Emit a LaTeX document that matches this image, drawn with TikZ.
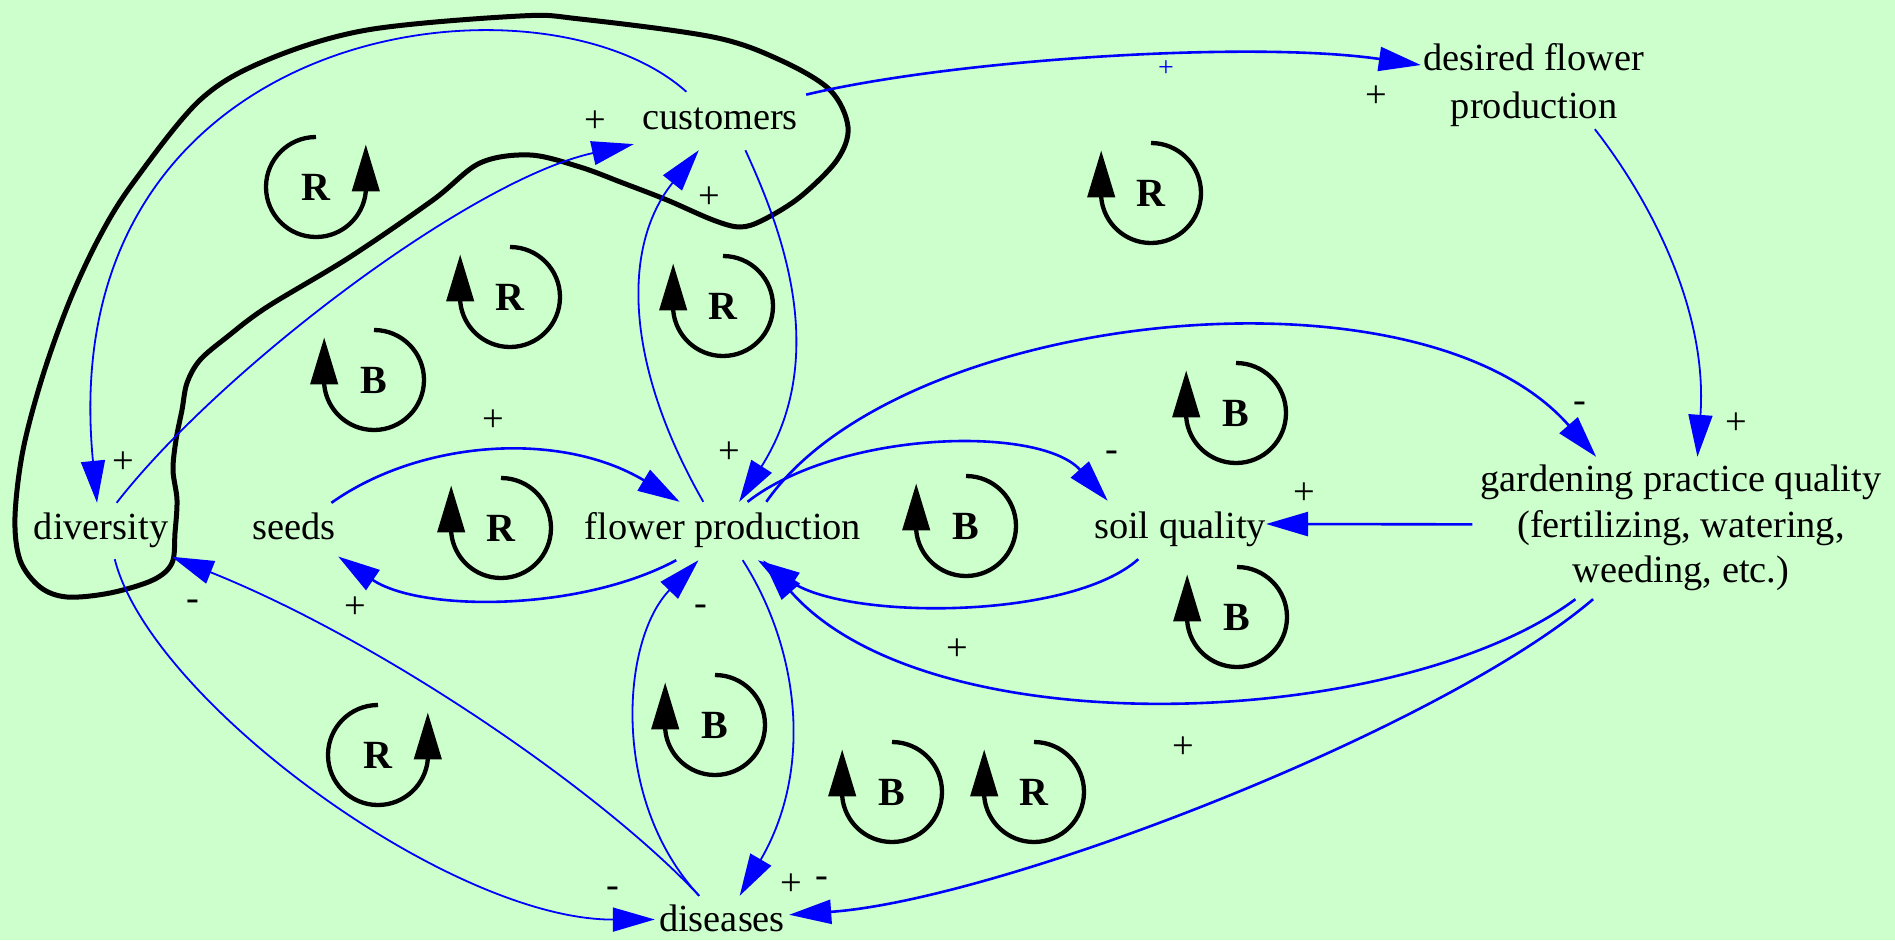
\documentclass[tikz,border=0pt]{standalone}
\usepackage{fontspec}
\setmainfont{Liberation Serif}
\usetikzlibrary{arrows.meta}
\definecolor{bgcol}{RGB}{204,255,204}
\tikzset{
  vnode/.style={inner sep=0pt, font=\fontsize{38.4}{46}\selectfont, text height=26.9pt, text depth=9.6pt},
  vmulti/.style={inner sep=0pt, align=center},
  edgethick/.style={draw=blue, line width=2.6pt, -{Triangle[length=42pt,width=24pt]}},
  edgethin/.style={draw=blue, line width=1.8pt, -{Triangle[length=42pt,width=24pt]}},
  polar/.style={inner sep=0pt, font=\fontsize{38.4}{46}\selectfont},
  loopstroke/.style={line width=4.3pt, -{Triangle[length=47pt,width=27pt]}},
  loopletter/.style={inner sep=0pt, font=\fontsize{40}{48}\selectfont\bfseries},
}
\newcommand\fbloopA[4]{%
  \node[loopletter] (#1) at (#2,-#3) {#4};
  \draw[loopstroke] ([yshift=50pt]#1.center) arc[start angle=90, end angle=355, radius=50pt] -- ++(0,47pt);
}
\newcommand\fbloopB[4]{%
  \node[loopletter] (#1) at (#2,-#3) {#4};
  \draw[loopstroke] ([yshift=50pt]#1.center) arc[start angle=90, end angle=-175, radius=50pt] -- ++(0,47pt);
}
\begin{document}
\begin{tikzpicture}[x=1pt,y=1pt]
\fill[bgcol] (0,0) rectangle (1895,-940);
\useasboundingbox (0,0) rectangle (1895,-940);

% variables
\node[vnode, minimum width=172pt, minimum height=58pt] (cust) at (720,-121) {customers};
\node[vmulti, font=\fontsize{38.4}{48}\selectfont, minimum width=226pt, minimum height=88pt] (desired) at (1534,-85) {desired flower\\production};
\node[vnode, minimum width=141pt, minimum height=56pt] (div) at (101,-531) {diversity};
\node[vnode, minimum width=88pt, minimum height=56pt] (seeds) at (294,-531) {seeds};
\node[vnode, minimum width=290pt, minimum height=58pt] (flower) at (723,-531) {flower production};
\node[vnode, minimum width=166pt, minimum height=58pt] (soil) at (1180,-530) {soil quality};
\node[vmulti, font=\fontsize{38.4}{45.5}\selectfont, minimum width=417pt, minimum height=142pt] (gard) at (1681,-528) {gardening practice quality\\(fertilizing, watering,\\weeding, etc.)};
\node[vnode, minimum width=134pt, minimum height=54pt] (dis) at (722,-923) {diseases};

% boundary outline
\draw[line width=5pt, line join=round] plot[smooth cycle, tension=0.55] coordinates {
 (67,-597) (40,-587) (20,-560) (15,-517) (23,-450) (43,-375) (70,-300) (100,-236) (133,-183)
 (200,-100) (267,-60) (367,-30) (520,-16) (580,-19) (713,-37) (780,-60) (830,-90) (848,-127)
 (837,-160) (800,-197) (763,-220) (740,-227) (713,-220) (667,-200) (623,-183) (580,-167)
 (530,-155) (480,-163) (433,-200) (350,-257) (267,-307) (227,-337) (200,-360) (187,-383)
 (182,-410) (176,-440) (173,-470) (177,-500) (175,-533) (172,-563) (153,-580) (110,-593)};

% links
\draw[edgethin]  (cust.139) .. controls (540,40) and (50,-20) .. (div.98);
\draw[edgethin]  (div.61) .. controls (220,-370) and (470,-180) .. (cust.195);
\draw[edgethick] (cust.17) .. controls (950,-60) and (1250,-40) .. (desired.170);
\draw[edgethin]  (cust.-49) .. controls (783,-232) and (830,-358) .. (flower.61);
\draw[edgethin]  (flower.124) .. controls (625,-365) and (621,-247) .. (cust.234);
\draw[edgethick] (seeds.37) .. controls (420,-440) and (560,-430) .. (flower.146);
\draw[edgethick] (flower.212) .. controls (580,-612) and (420,-612) .. (seeds.-30);
\draw[edgethick] (flower.50) .. controls (840,-430) and (1040,-425) .. (soil.158);
\draw[edgethick] (soil.215) .. controls (1070,-620) and (850,-620) .. (flower.-40);
\draw[edgethick] (flower.34) .. controls (900,-310) and (1420,-255) .. (gard.140);
\draw[edgethick] (gard.214) .. controls (1400,-730) and (930,-750) .. (flower.-36);
\draw[edgethick] (gard.179) -- (soil.4);
\draw[edgethin]  (desired.-36) .. controls (1650,-200) and (1708,-310) .. (gard.77);
\draw[edgethick] (gard.219) .. controls (1440,-730) and (1000,-900) .. (dis.7);
\draw[edgethin]  (flower.-56) .. controls (800,-650) and (813,-770) .. (dis.57);
\draw[edgethin]  (dis.130) .. controls (610,-800) and (621,-640) .. (flower.230);
\draw[edgethin]  (dis.130) .. controls (600,-790) and (380,-640) .. (div.-20);
\draw[edgethin]  (div.-64) .. controls (150,-700) and (450,-920) .. (dis.177);

% polarities
\node[polar] (p1) at (595,-122) {+};
\node[polar] (p2) at (709,-198) {+};
\node[polar] (p3) at (123,-463) {+};
\node[polar, text=blue, font=\fontsize{28}{32}\selectfont] (p4) at (1166,-69) {+};
\node[polar] (p5) at (1376,-97) {+};
\node[polar] (p6) at (493,-421) {+};
\node[polar] (p7) at (729,-453) {+};
\node[polar] (p8) at (1112,-456) {-};
\node[polar] (p9) at (1580,-407) {-};
\node[polar] (p10) at (1736,-424) {+};
\node[polar] (p11) at (1304,-494) {+};
\node[polar] (p12) at (957,-650) {+};
\node[polar] (p13) at (1183,-748) {+};
\node[polar] (p14) at (193,-605) {-};
\node[polar] (p15) at (355,-608) {+};
\node[polar] (p16) at (701,-610) {-};
\node[polar] (p17) at (613,-892) {-};
\node[polar] (p18) at (791,-885) {+};
\node[polar] (p19) at (822,-882) {-};

% loop markers
\fbloopA{l1}{316}{187}{R}
\fbloopB{l2}{510}{297}{R}
\fbloopB{l3}{723}{306}{R}
\fbloopB{l4}{374}{380}{B}
\fbloopB{l5}{1151}{193}{R}
\fbloopB{l6}{1236}{413}{B}
\fbloopB{l7}{501}{528}{R}
\fbloopB{l8}{966}{526}{B}
\fbloopB{l9}{1237}{617}{B}
\fbloopA{l10}{378}{755}{R}
\fbloopB{l11}{715}{725}{B}
\fbloopB{l12}{892}{792}{B}
\fbloopB{l13}{1034}{792}{R}
\end{tikzpicture}
\end{document}
